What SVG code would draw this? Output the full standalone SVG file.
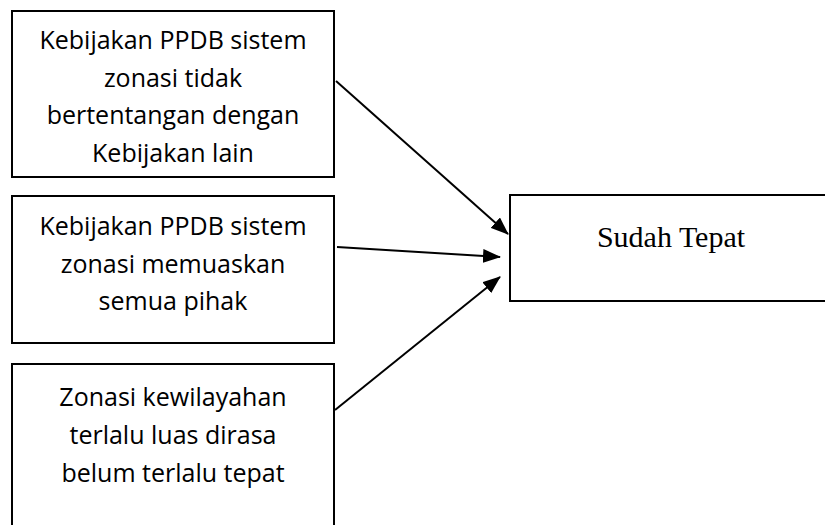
<svg xmlns="http://www.w3.org/2000/svg" width="825" height="525" viewBox="0 0 825 525">
<style>
.box{fill:#fff;stroke:#000;stroke-width:2}
.t{font-family:"Open Sans","Liberation Sans",sans-serif;font-size:25px;fill:#000;text-anchor:middle}
.s{font-family:"Liberation Serif","Times New Roman",serif;font-size:30px;fill:#000;text-anchor:middle}
.c{stroke:#000;stroke-width:2;fill:none;marker-end:url(#ah)}
</style>
<defs>
<marker id="ah" markerWidth="18" markerHeight="14" refX="17" refY="7" orient="auto" markerUnits="userSpaceOnUse">
<path d="M0,0 L18,7 L0,14 Z" fill="#000"/>
</marker>
</defs>
<rect width="825" height="525" fill="#fff"/>
<g id="n1">
<rect class="box" x="12" y="11" width="322" height="166"/>
<text class="t" x="173" y="49">Kebijakan PPDB sistem</text>
<text class="t" x="173" y="87">zonasi tidak</text>
<text class="t" x="173" y="124">bertentangan dengan</text>
<text class="t" x="173" y="162">Kebijakan lain</text>
</g>
<g id="n2">
<rect class="box" x="12" y="196" width="322" height="147"/>
<text class="t" x="173" y="235">Kebijakan PPDB sistem</text>
<text class="t" x="173" y="273">zonasi memuaskan</text>
<text class="t" x="173" y="310">semua pihak</text>
</g>
<g id="n3">
<rect class="box" x="12" y="364" width="322" height="200"/>
<text class="t" x="173" y="406">Zonasi kewilayahan</text>
<text class="t" x="173" y="444">terlalu luas dirasa</text>
<text class="t" x="173" y="482">belum terlalu tepat</text>
</g>
<g id="n4">
<rect class="box" x="510" y="195" width="340" height="106"/>
<text class="s" x="671" y="247">Sudah Tepat</text>
</g>
<g id="connectors">
<line class="c" x1="336" y1="81" x2="508" y2="234"/>
<line class="c" x1="337" y1="247" x2="500" y2="257"/>
<line class="c" x1="335" y1="410" x2="500" y2="277"/>
</g>
</svg>
